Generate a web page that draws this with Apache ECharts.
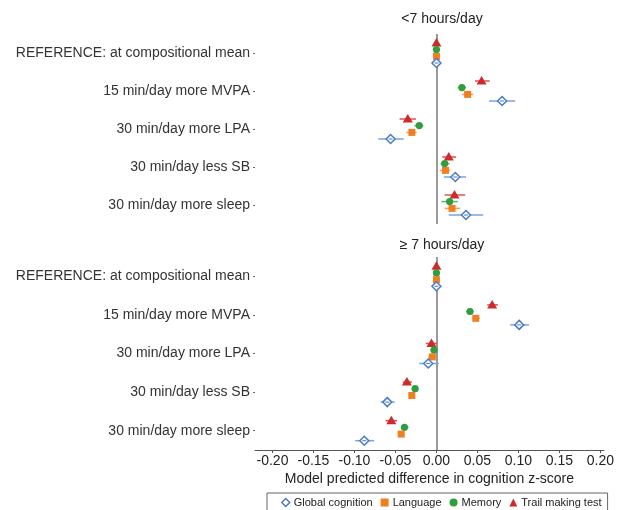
<!DOCTYPE html>
<html>
<head>
<meta charset="utf-8">
<script src="https://cdn.jsdelivr.net/npm/echarts@6/dist/echarts.min.js"></script>
<style>
  html, body { margin: 0; padding: 0; background: #fff; }
  #chart { width: 617px; height: 510px; }
</style>
</head>
<body>
<div id="chart"></div>
<script>
// categories (top to bottom)
var categories = [
    'REFERENCE: at compositional mean',
    '15 min/day more MVPA',
    '30 min/day more LPA',
    '30 min/day less SB',
    '30 min/day more sleep'
];
var xTicks = [-0.2, -0.15, -0.1, -0.05, 0, 0.05, 0.1, 0.15, 0.2];

// <7 hours/day : estimate, lower, upper
var shortGlobal = [0, 0.080, -0.056, 0.023, 0.036];
var shortGlobalLo = [0, 0.064, -0.071, 0.009, 0.015];
var shortGlobalHi = [0, 0.096, -0.040, 0.036, 0.057];
var shortLang = [0, 0.038, -0.030, 0.011, 0.019];
var shortLangLo = [0, 0.031, -0.037, 0.004, 0.010];
var shortLangHi = [0, 0.045, -0.024, 0.017, 0.029];
var shortMem = [0, 0.031, -0.021, 0.010, 0.016];
var shortMemLo = [0, 0.026, -0.027, 0.005, 0.006];
var shortMemHi = [0, 0.036, -0.016, 0.016, 0.026];
var shortTrail = [0, 0.055, -0.035, 0.015, 0.022];
var shortTrailLo = [0, 0.047, -0.045, 0.007, 0.010];
var shortTrailHi = [0, 0.065, -0.025, 0.024, 0.035];

// >=7 hours/day
var longGlobal = [0, 0.101, -0.010, -0.060, -0.088];
var longGlobalLo = [0, 0.090, -0.021, -0.068, -0.099];
var longGlobalHi = [0, 0.113, 0.003, -0.051, -0.076];
var longLang = [0, 0.048, -0.005, -0.030, -0.043];
var longLangLo = [0, 0.044, -0.010, -0.034, -0.047];
var longLangHi = [0, 0.053, -0.001, -0.026, -0.039];
var longMem = [0, 0.041, -0.003, -0.026, -0.039];
var longMemLo = [0, 0.036, -0.007, -0.030, -0.043];
var longMemHi = [0, 0.045, 0.002, -0.022, -0.034];
var longTrail = [0, 0.068, -0.006, -0.036, -0.055];
var longTrailLo = [0, 0.062, -0.013, -0.041, -0.062];
var longTrailHi = [0, 0.075, 0.001, -0.030, -0.048];

var outcomes = ['Global cognition', 'Language', 'Memory', 'Trail making test'];
var colors = ['#4a7bc4', '#f07f22', '#2f9e3f', '#cf2a2a'];
var ciColors = ['#7aa3dc', '#f5a060', '#5cb868', '#d9534f'];
var offsets = [10, 3.4, -3.4, -10];

function rows(est, lo, hi) {
    return est.map(function (v, i) { return [i, v, lo[i], hi[i]]; });
}

function drawMarker(k, x, y) {
    if (k === 0) {
        return { type: 'polygon', shape: { points: [[x, y - 4.5], [x + 4.5, y], [x, y + 4.5], [x - 4.5, y]] },
            style: { fill: '#fff', stroke: colors[0], lineWidth: 1.5 } };
    } else if (k === 1) {
        return { type: 'rect', shape: { x: x - 3.5, y: y - 3.5, width: 7, height: 7 },
            style: { fill: colors[1] } };
    } else if (k === 2) {
        return { type: 'circle', shape: { cx: x, cy: y, r: 3.6 }, style: { fill: colors[2] } };
    }
    return { type: 'polygon', shape: { points: [[x, y - 5], [x + 5, y + 3.5], [x - 5, y + 3.5]] },
        style: { fill: colors[3] } };
}

function makeSeries(k, gridIdx, data) {
    return {
        name: outcomes[k],
        type: 'custom',
        xAxisIndex: gridIdx,
        yAxisIndex: gridIdx,
        encode: { x: [1, 2, 3], y: 0 },
        data: data,
        z: 10 - k,
        renderItem: function (params, api) {
            var p = api.coord([api.value(1), api.value(0)]);
            var a = api.coord([api.value(2), api.value(0)]);
            var b = api.coord([api.value(3), api.value(0)]);
            var y = p[1] + offsets[k];
            var kids = [];
            if (b[0] - a[0] > 0.5) {
                kids.push({ type: 'line', shape: { x1: a[0], y1: y, x2: b[0], y2: y },
                    style: { stroke: ciColors[k], lineWidth: 1.5 } });
            }
            kids.push(drawMarker(k, p[0], y));
            if (k === 0) {
                kids.push({ type: 'line', shape: { x1: p[0] - 2, y1: y, x2: p[0] + 2, y2: y },
                    style: { stroke: colors[0], lineWidth: 1 } });
            }
            return { type: 'group', children: kids };
        }
    };
}

function zeroLine(gridIdx) {
    return {
        type: 'scatter',
        xAxisIndex: gridIdx,
        yAxisIndex: gridIdx,
        data: [],
        silent: true,
        markLine: {
            silent: true,
            symbol: 'none',
            label: { show: false },
            lineStyle: { color: '#9a9a9a', width: 2, type: 'solid' },
            data: [{ xAxis: 0 }]
        }
    };
}

var xMin = -0.2213, xMax = 0.2043;
var textColor = '#333';

function yAxisFor(gridIdx) {
    return {
        type: 'category',
        gridIndex: gridIdx,
        data: categories,
        inverse: true,
        position: 'left',
        axisLine: { show: false, onZero: false },
        axisTick: { show: true, length: 2, alignWithLabel: true, lineStyle: { color: '#666' } },
        axisLabel: { color: textColor, fontSize: 14, margin: 5, fontFamily: 'Liberation Sans' }
    };
}

var option = {
    animation: false,
    backgroundColor: '#fff',
    textStyle: { fontFamily: 'Liberation Sans' },
    title: [
        { text: '<7 hours/day', left: 437, top: 7, textAlign: 'center',
          textStyle: { fontSize: 14, fontWeight: 'normal', color: '#222' } },
        { text: '\u2265 7 hours/day', left: 437, top: 233, textAlign: 'center',
          textStyle: { fontSize: 14, fontWeight: 'normal', color: '#222' } }
    ],
    grid: [
        { left: 255, width: 349, top: 34, height: 190 },
        { left: 255, width: 349, top: 257, height: 193 }
    ],
    xAxis: [
        { type: 'value', gridIndex: 0, min: xMin, max: xMax, show: false, splitLine: { show: false } },
        {
            type: 'value', gridIndex: 1, min: xMin, max: xMax,
            splitLine: { show: false },
            axisLine: { show: true, onZero: false, lineStyle: { color: '#555', width: 1 } },
            axisTick: { show: true, length: 3, customValues: xTicks, lineStyle: { color: '#555' } },
            axisLabel: {
                customValues: xTicks, color: '#222', fontSize: 14, margin: 4,
                formatter: function (v) { return v.toFixed(2); }
            },
            name: 'Model predicted difference in cognition z-score',
            nameLocation: 'middle',
            nameGap: 22,
            nameTextStyle: { color: '#222', fontSize: 14 }
        }
    ],
    yAxis: [yAxisFor(0), yAxisFor(1)],
    legend: {
        left: 267,
        top: 493,
        padding: [4, 6, 6, 14],
        itemGap: 8,
        itemWidth: 8,
        itemHeight: 8,
        borderColor: '#666',
        borderWidth: 1,
        textStyle: { color: '#222', fontSize: 11, padding: [0, 0, 0, -1] },
        data: [
            { name: outcomes[0], icon: 'diamond', itemStyle: { color: '#fff', borderColor: colors[0], borderWidth: 1.5 } },
            { name: outcomes[1], icon: 'rect', itemStyle: { color: colors[1] } },
            { name: outcomes[2], icon: 'circle', itemStyle: { color: colors[2] } },
            { name: outcomes[3], icon: 'triangle', itemStyle: { color: colors[3] } }
        ]
    },
    series: [
        zeroLine(0),
        zeroLine(1),
        makeSeries(0, 0, rows(shortGlobal, shortGlobalLo, shortGlobalHi)),
        makeSeries(1, 0, rows(shortLang, shortLangLo, shortLangHi)),
        makeSeries(2, 0, rows(shortMem, shortMemLo, shortMemHi)),
        makeSeries(3, 0, rows(shortTrail, shortTrailLo, shortTrailHi)),
        makeSeries(0, 1, rows(longGlobal, longGlobalLo, longGlobalHi)),
        makeSeries(1, 1, rows(longLang, longLangLo, longLangHi)),
        makeSeries(2, 1, rows(longMem, longMemLo, longMemHi)),
        makeSeries(3, 1, rows(longTrail, longTrailLo, longTrailHi))
    ]
};

var chart = echarts.init(document.getElementById('chart'));
chart.setOption(option);
</script>
</body>
</html>
